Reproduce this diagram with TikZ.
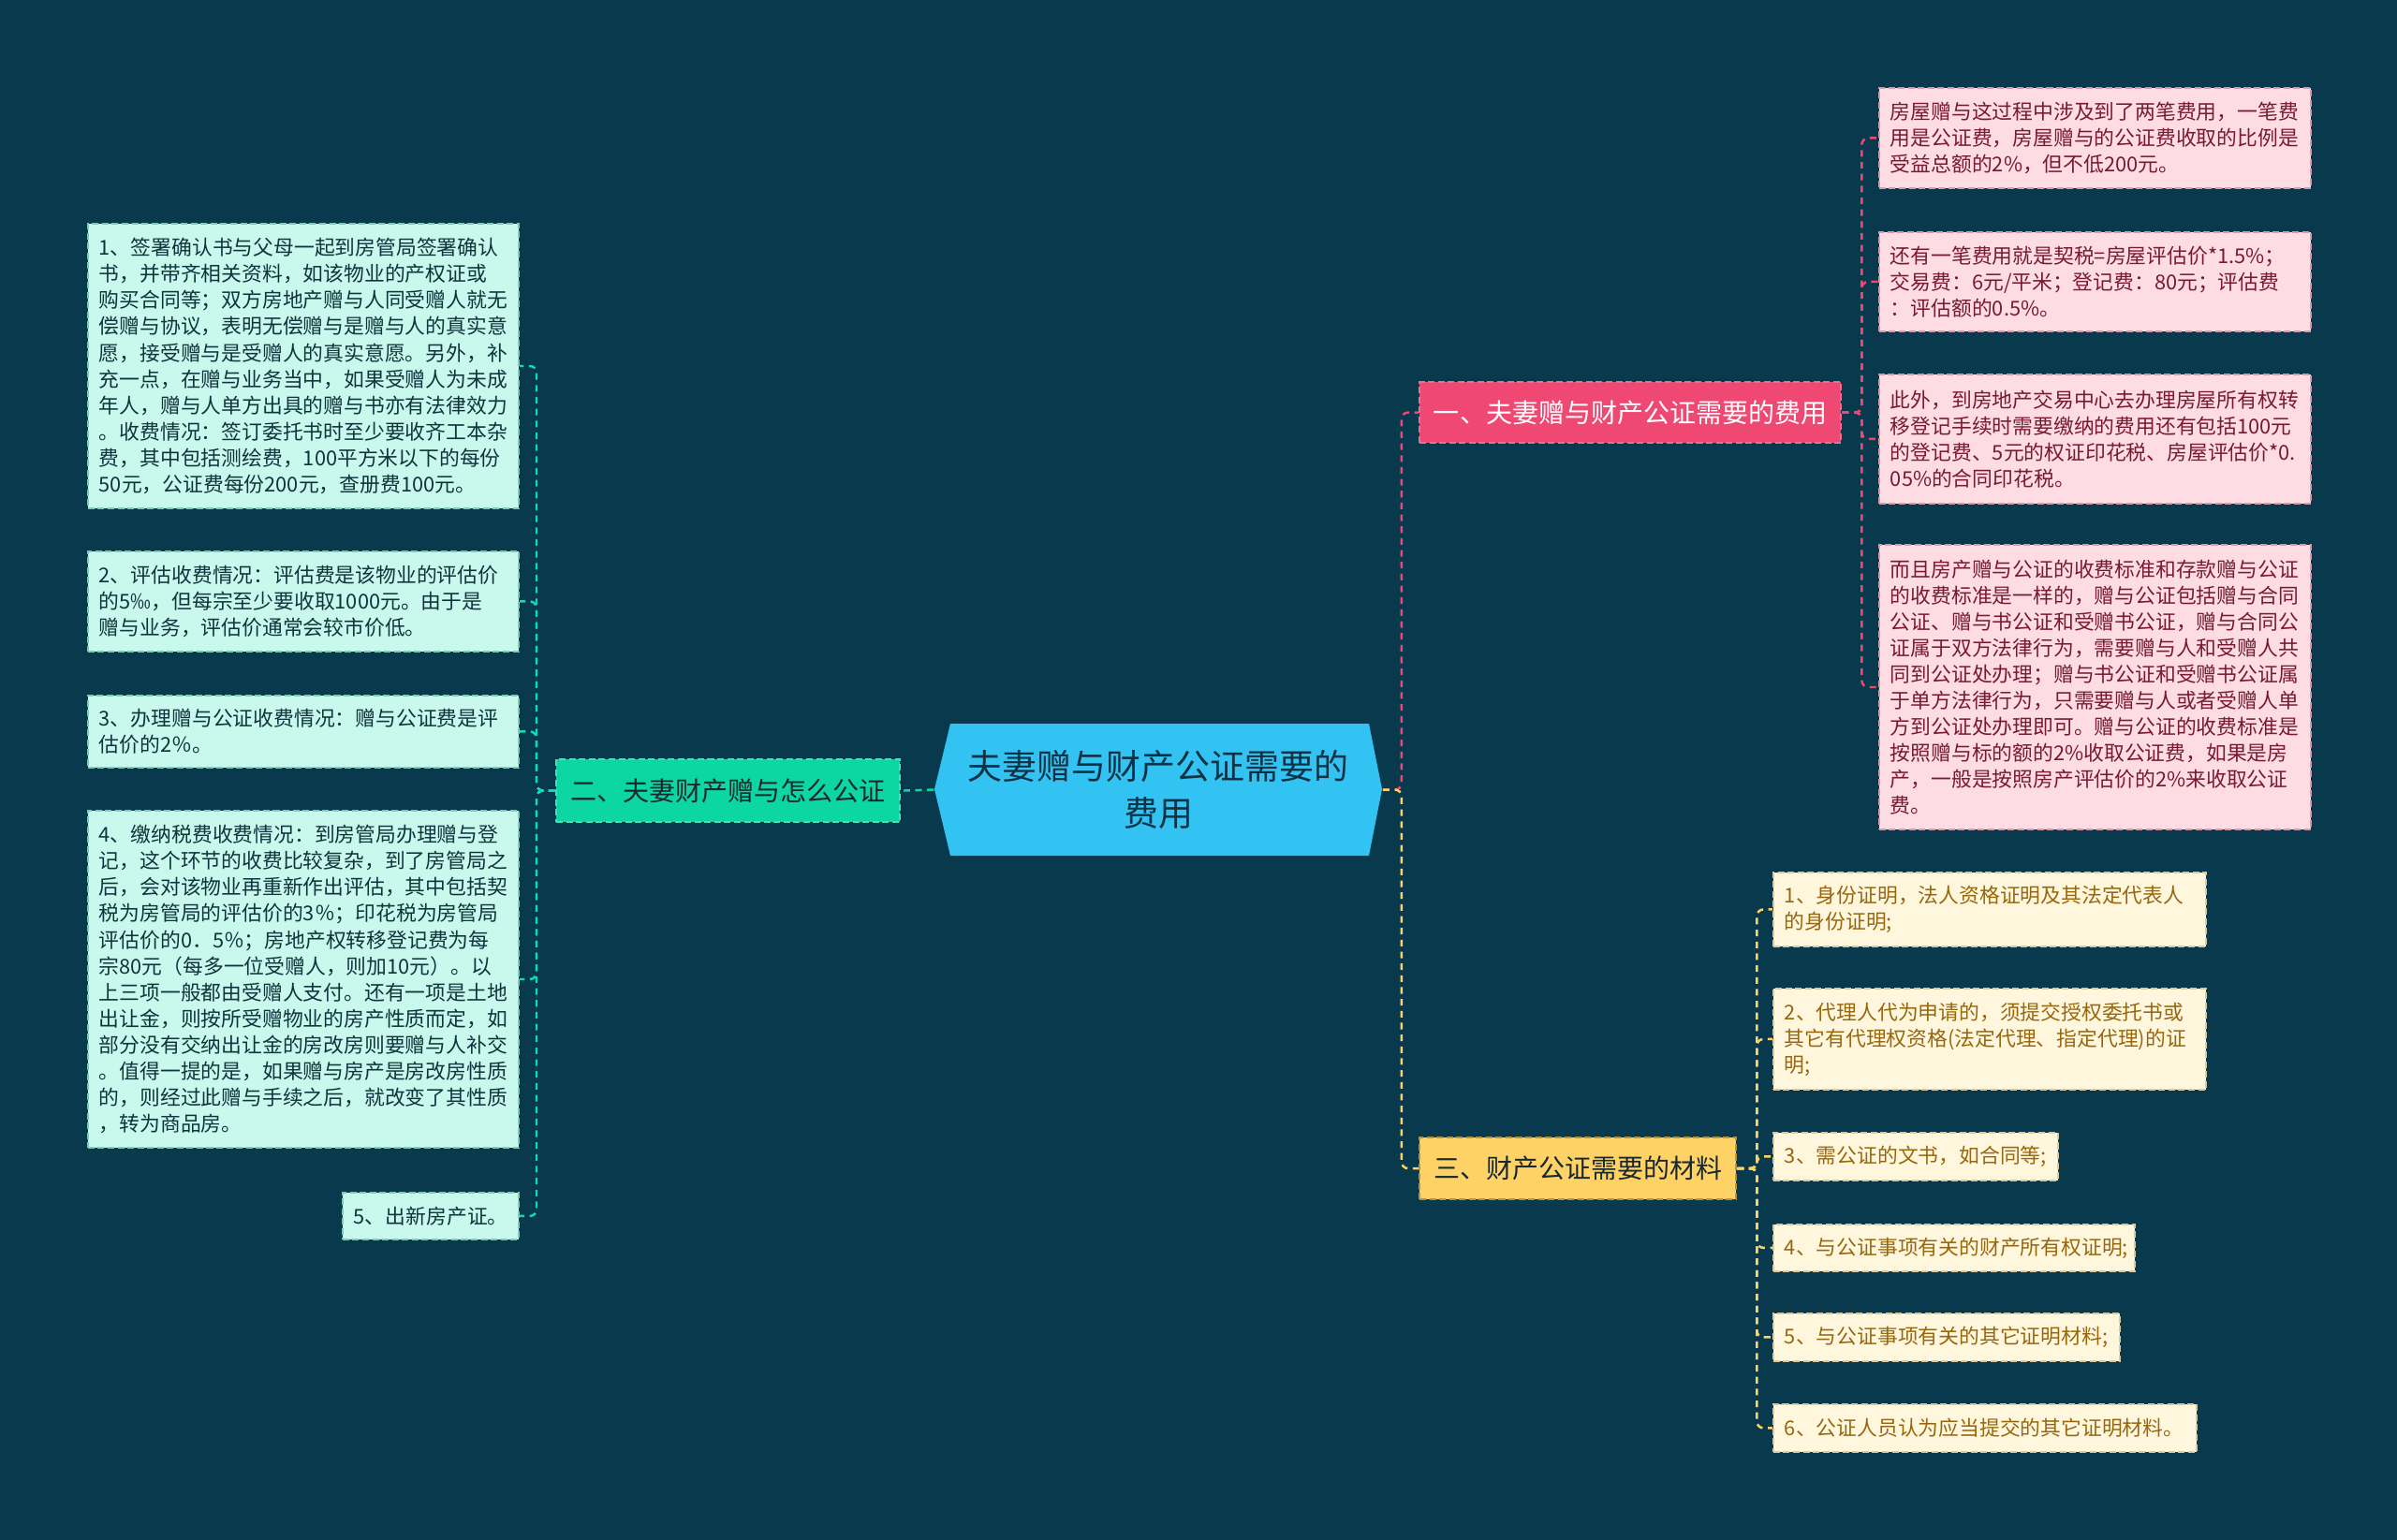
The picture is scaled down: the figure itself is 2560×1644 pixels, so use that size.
\documentclass[tikz,border=0pt]{standalone}
\usepackage{fontspec}
\newfontfamily\cjk{Noto Sans CJK SC}
\definecolor{bgc}{RGB}{8,57,77}
\definecolor{cfill}{RGB}{51,195,242}
\definecolor{ctext}{RGB}{14,50,68}
\definecolor{pinkb}{RGB}{238,72,115}
\definecolor{greenb}{RGB}{12,214,162}
\definecolor{yellowb}{RGB}{255,210,102}
\definecolor{pinkl}{RGB}{253,220,227}
\definecolor{pinkt}{RGB}{120,26,48}
\definecolor{cyanl}{RGB}{201,248,236}
\definecolor{cyant}{RGB}{16,52,62}
\definecolor{yell}{RGB}{255,246,222}
\definecolor{yelt}{RGB}{150,104,14}
\definecolor{darkt}{RGB}{24,40,46}
\begin{document}
\begin{tikzpicture}[x=0.01cm,y=-0.01cm,
  box/.style={anchor=north west,inner sep=0pt,inner xsep=0.12cm,align=left,
     line width=0.5pt,dash pattern=on 2pt off 1pt,font=\cjk\fontsize{6.2pt}{7.97pt}\selectfont},
  pinkleaf/.style={box,fill=pinkl,draw=pinkb!35!pinkl!70!gray,text=pinkt},
  cyanleaf/.style={box,fill=cyanl,draw=greenb!40!cyanl!70!gray,text=cyant},
  yelleaf/.style={box,fill=yell,draw=yellowb!40!yell!70!gray,text=yelt},
  branch/.style={anchor=north west,inner sep=0pt,align=center,line width=0.6pt,
     dash pattern=on 2pt off 1pt,font=\cjk\fontsize{7.97pt}{10pt}\selectfont},
  conn/.style={line width=0.7pt,dash pattern=on 2pt off 1.6pt,rounded corners=2pt}]
\useasboundingbox (0,0) rectangle (2560,1644);
\fill[bgc] (-20,-20) rectangle (2580,1664);

% center hexagon
\fill[cfill] (998,843) -- (1015,773) -- (1462,773) -- (1476,843) -- (1462,914) -- (1015,914) -- cycle;
\node[inner sep=0pt,minimum width=4.78cm,minimum height=1.41cm,align=center,text=ctext,
  font=\cjk\fontsize{10.5pt}{14.2pt}\selectfont] (c) at (1237,843.5) {夫妻赠与财产公证需要的\\费用};

% branches
\node[branch,fill=pinkb,draw=pinkb!80!white,text=white,minimum width=4.50cm,minimum height=0.65cm] (b1) at (1515,407) {一、夫妻赠与财产公证需要的费用};
\node[branch,fill=greenb,draw=greenb!75!white,text=darkt,minimum width=3.67cm,minimum height=0.67cm] (b2) at (593,810) {二、夫妻财产赠与怎么公证};
\node[branch,fill=yellowb,draw=yellowb!70!black,text=darkt,minimum width=3.38cm,minimum height=0.66cm] (b3) at (1515,1214) {三、财产公证需要的材料};

% pink leaves
\node[pinkleaf,text width=4.37cm,minimum height=1.07cm] (p1) at (2006,93) {房屋赠与这过程中涉及到了两笔费用，一笔费\\用是公证费，房屋赠与的公证费收取的比例是\\受益总额的2\%，但不低200元。};
\node[pinkleaf,text width=4.37cm,minimum height=1.06cm] (p2) at (2006,247) {还有一笔费用就是契税=房屋评估价*1.5\%；\\交易费：6元/平米；登记费：80元；评估费\\：评估额的0.5\%。};
\node[pinkleaf,text width=4.37cm,minimum height=1.38cm] (p3) at (2006,399) {此外，到房地产交易中心去办理房屋所有权转\\移登记手续时需要缴纳的费用还有包括100元\\的登记费、5元的权证印花税、房屋评估价*0.\\05\%的合同印花税。};
\node[pinkleaf,text width=4.37cm,minimum height=3.04cm] (p4) at (2006,581) {而且房产赠与公证的收费标准和存款赠与公证\\的收费标准是一样的，赠与公证包括赠与合同\\公证、赠与书公证和受赠书公证，赠与合同公\\证属于双方法律行为，需要赠与人和受赠人共\\同到公证处办理；赠与书公证和受赠书公证属\\于单方法律行为，只需要赠与人或者受赠人单\\方到公证处办理即可。赠与公证的收费标准是\\按照赠与标的额的2\%收取公证费，如果是房\\产，一般是按照房产评估价的2\%来收取公证\\费。};

% cyan leaves
\node[cyanleaf,text width=4.36cm,minimum height=3.04cm] (l1) at (93,238) {1、签署确认书与父母一起到房管局签署确认\\书，并带齐相关资料，如该物业的产权证或\\购买合同等；双方房地产赠与人同受赠人就无\\偿赠与协议，表明无偿赠与是赠与人的真实意\\愿，接受赠与是受赠人的真实意愿。另外，补\\充一点，在赠与业务当中，如果受赠人为未成\\年人，赠与人单方出具的赠与书亦有法律效力\\。收费情况：签订委托书时至少要收齐工本杂\\费，其中包括测绘费，100平方米以下的每份\\50元，公证费每份200元，查册费100元。};
\node[cyanleaf,text width=4.36cm,minimum height=1.07cm] (l2) at (93,588) {2、评估收费情况：评估费是该物业的评估价\\的5‰，但每宗至少要收取1000元。由于是\\赠与业务，评估价通常会较市价低。};
\node[cyanleaf,text width=4.36cm,minimum height=0.77cm] (l3) at (93,742) {3、办理赠与公证收费情况：赠与公证费是评\\估价的2％。};
\node[cyanleaf,text width=4.36cm,minimum height=3.60cm] (l4) at (93,865) {4、缴纳税费收费情况：到房管局办理赠与登\\记，这个环节的收费比较复杂，到了房管局之\\后，会对该物业再重新作出评估，其中包括契\\税为房管局的评估价的3％；印花税为房管局\\评估价的0．5％；房地产权转移登记费为每\\宗80元（每多一位受赠人，则加10元）。以\\上三项一般都由受赠人支付。还有一项是土地\\出让金，则按所受赠物业的房产性质而定，如\\部分没有交纳出让金的房改房则要赠与人补交\\。值得一提的是，如果赠与房产是房改房性质\\的，则经过此赠与手续之后，就改变了其性质\\，转为商品房。};
\node[cyanleaf,text width=1.64cm,minimum height=0.50cm] (l5) at (365,1273) {5、出新房产证。};

% yellow leaves
\node[yelleaf,text width=4.38cm,minimum height=0.79cm] (y1) at (1893,931) {1、身份证明，法人资格证明及其法定代表人\\的身份证明;};
\node[yelleaf,text width=4.38cm,minimum height=1.08cm] (y2) at (1893,1055) {2、代理人代为申请的，须提交授权委托书或\\其它有代理权资格(法定代理、指定代理)的证\\明;};
\node[yelleaf,text width=2.80cm,minimum height=0.51cm] (y3) at (1893,1209) {3、需公证的文书，如合同等;};
\node[yelleaf,text width=3.62cm,minimum height=0.50cm] (y4) at (1893,1307) {4、与公证事项有关的财产所有权证明;};
\node[yelleaf,text width=3.46cm,minimum height=0.51cm] (y5) at (1893,1402) {5、与公证事项有关的其它证明材料;};
\node[yelleaf,text width=4.28cm,minimum height=0.51cm] (y6) at (1893,1499) {6、公证人员认为应当提交的其它证明材料。};

% connectors center -> branches
\draw[conn,pinkb] (c.east) -- ++(20,0) |- (b1.west);
\draw[conn,yellowb] (c.east) -- ++(20,0) |- (b3.west);
\draw[conn,greenb] (c.west) -- (b2.east);

% branch 1 -> pink leaves
\foreach \n in {p1,p2,p3,p4}
  \draw[conn,pinkb] (b1.east) -- ++(21,0) |- (\n.west);
% branch 2 -> cyan leaves
\foreach \n in {l1,l2,l3,l4,l5}
  \draw[conn,greenb!80!cyan] (b2.west) -- ++(-20,0) |- (\n.east);
% branch 3 -> yellow leaves
\foreach \n in {y1,y2,y3,y4,y5,y6}
  \draw[conn,yellowb] (b3.east) -- ++(21,0) |- (\n.west);
\end{tikzpicture}
\end{document}
